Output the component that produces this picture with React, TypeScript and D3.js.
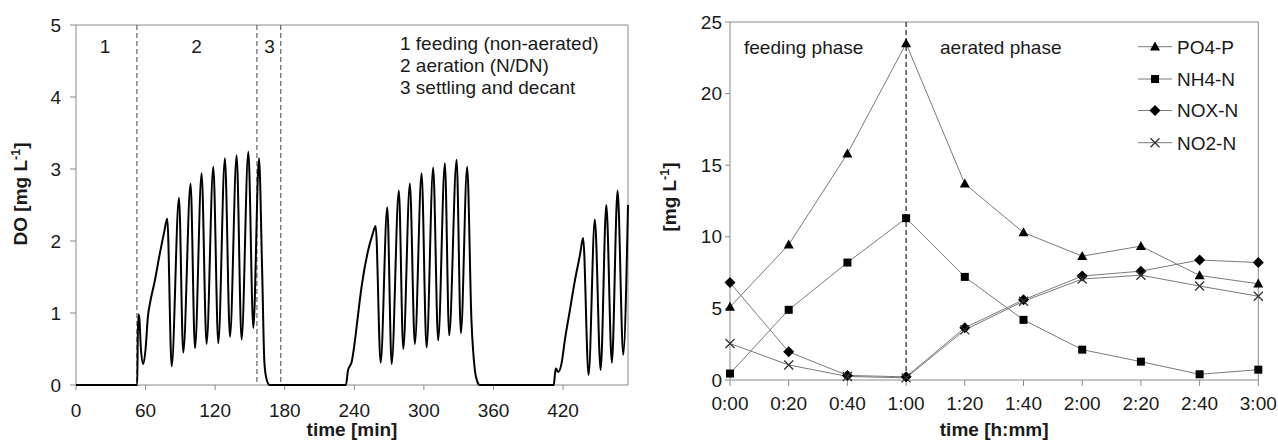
import React from "react";
import * as d3 from "d3";

// ---------- Left chart: DO time series (time in min, DO in mg/L) ----------
const doCycle1: [number, number][] = [
  [0, 0], [52.8, 0], [53.3, 0.7], [53.9, 0.98], [54.6, 0.93], [56, 0.5], [58, 0.29], [60, 0.5],
  [62, 0.95], [64, 1.15], [68, 1.45], [72, 1.8], [76, 2.12], [78.7, 2.31], [82.5, 0.26],
  [88.8, 2.6], [92.5, 0.45], [98.8, 2.8], [102.6, 0.51], [108.3, 2.94], [112.6, 0.57],
  [118.4, 3.03], [122.7, 0.58], [128.4, 3.15], [132.8, 0.67], [138.5, 3.19], [142.8, 0.63],
  [148.6, 3.24], [152.9, 0.79], [157.8, 3.15], [160.5, 1.6], [162.5, 0.3], [164.5, 0.07], [167, 0],
];
const doCycle2: [number, number][] = [
  [167, 0], [232.8, 0], [234.5, 0.2], [236, 0.26], [237.7, 0.32], [240, 0.55], [242, 0.81],
  [246.3, 1.37], [252, 1.875], [255.5, 2.08], [258.4, 2.21], [262.7, 0.31], [268.4, 2.47],
  [272.2, 0.29], [278.4, 2.7], [282.2, 0.5], [287.9, 2.8], [292.2, 0.57], [298, 2.94],
  [302.3, 0.52], [308, 3.02], [312.3, 0.62], [318.1, 3.08], [321.8, 0.69], [328.2, 3.13],
  [331.9, 0.72], [337.3, 3.03], [341, 0.9], [344, 0.2], [346, 0.05], [348, 0],
];
const doCycle3: [number, number][] = [
  [348, 0], [412, 0], [413, 0.15], [413.8, 0.23], [415.8, 0.18], [418.7, 0.3], [421.6, 0.63],
  [425.9, 1.04], [430.2, 1.45], [434.5, 1.8], [437.3, 2.04], [442, 0.14], [447.4, 2.3],
  [452.4, 0.21], [457.3, 2.5], [462.1, 0.31], [467, 2.7], [471.9, 0.42], [476, 2.5],
];
const doXTicks = [0, 60, 120, 180, 240, 300, 360, 420];
const doYTicks = [0, 1, 2, 3, 4, 5];
const phaseBounds = [52.5, 156, 176.5];
const phaseLabels = [
  { label: "1", t: 25 },
  { label: "2", t: 104 },
  { label: "3", t: 167 },
];
const phaseNotes = ["1 feeding (non-aerated)", "2 aeration (N/DN)", "3 settling and decant"];

// ---------- Right chart: nutrients ----------
const timeMin = [0, 20, 40, 60, 80, 100, 120, 140, 160, 180];
const timeLabels = ["0:00", "0:20", "0:40", "1:00", "1:20", "1:40", "2:00", "2:20", "2:40", "3:00"];
const po4P = [5.1, 9.45, 15.8, 23.5, 13.7, 10.3, 8.65, 9.35, 7.3, 6.72];
const nh4N = [0.45, 4.9, 8.2, 11.3, 7.2, 4.2, 2.12, 1.28, 0.4, 0.72];
const noxN = [6.8, 1.97, 0.32, 0.22, 3.65, 5.6, 7.26, 7.6, 8.38, 8.2];
const no2N = [2.55, 1.05, 0.25, 0.15, 3.5, 5.5, 7.05, 7.32, 6.56, 5.85];
const nutYTicks = [0, 5, 10, 15, 20, 25];
const seriesNames = ["PO4-P", "NH4-N", "NOX-N", "NO2-N"];

const FONT = "Arial, 'Liberation Sans', Helvetica, sans-serif";
const AXIS = "#8a8a8a";
const TXT = "#1a1a1a";
const FS = 19;

function Marker({ kind, x, y }: { kind: number; x: number; y: number }) {
  if (kind === 0)
    return <path d={`M${x},${y - 5.2}L${x + 5},${y + 3.8}L${x - 5},${y + 3.8}Z`} fill="#000" />;
  if (kind === 1) return <rect x={x - 4} y={y - 4} width={8} height={8} fill="#000" />;
  if (kind === 2)
    return <path d={`M${x},${y - 5.5}L${x + 5.5},${y}L${x},${y + 5.5}L${x - 5.5},${y}Z`} fill="#000" />;
  return (
    <path
      d={`M${x - 4.5},${y - 4.5}L${x + 4.5},${y + 4.5}M${x + 4.5},${y - 4.5}L${x - 4.5},${y + 4.5}`}
      stroke="#333"
      strokeWidth={1.3}
      fill="none"
    />
  );
}

export default function App() {
  // left scales
  const xL = d3.scaleLinear().domain([0, 476]).range([76, 628]);
  const yL = d3.scaleLinear().domain([0, 5]).range([385, 25]);
  const doLine = d3
    .line<[number, number]>()
    .x((d) => xL(d[0]))
    .y((d) => yL(d[1]))
    .curve(d3.curveMonotoneX);
  const allDO = [...doCycle1, ...doCycle2.slice(1), ...doCycle3.slice(1)];

  // right scales
  const xR = d3.scaleLinear().domain([0, 180]).range([730, 1258.3]);
  const yR = d3.scaleLinear().domain([0, 25]).range([380, 22]);
  const nutLine = d3
    .line<number>()
    .x((_, i) => xR(timeMin[i]))
    .y((d) => yR(d));
  const series = [po4P, nh4N, noxN, no2N];
  const legendY = [46.7, 79, 110.5, 142.7];

  const [l0, l1] = xL.range();
  const [b0, t0] = yL.range();
  const [r0, r1] = xR.range();
  const [b1, t1] = yR.range();

  return (
    <svg
      width={1278}
      height={441}
      style={{ position: "absolute", left: 0, top: 0, background: "#fff" }}
      fontFamily={FONT}
    >
      <rect x={0} y={0} width={1278} height={441} fill="#fff" />

      {/* ===== LEFT CHART ===== */}
      <g>
        <line x1={l0} x2={l1} y1={t0} y2={t0} stroke={AXIS} strokeWidth={1} />
        <line x1={l1} x2={l1} y1={t0} y2={b0} stroke={AXIS} strokeWidth={1} />
        <line x1={l0} x2={l0} y1={t0} y2={b0} stroke={AXIS} strokeWidth={1} />
        <line x1={l0} x2={l1} y1={b0} y2={b0} stroke={AXIS} strokeWidth={1} />
        {doYTicks.map((v) => (
          <g key={v}>
            <line x1={l0 - 6} x2={l0} y1={yL(v)} y2={yL(v)} stroke={AXIS} />
            <text x={61} y={yL(v)} dy="0.35em" textAnchor="end" fontSize={FS} fill={TXT}>
              {v}
            </text>
          </g>
        ))}
        {doXTicks.map((v) => (
          <g key={v}>
            <line x1={xL(v)} x2={xL(v)} y1={b0} y2={b0 + 5} stroke={AXIS} />
            <text x={xL(v)} y={417} textAnchor="middle" fontSize={FS} fill={TXT}>
              {v}
            </text>
          </g>
        ))}
        {phaseBounds.map((t) => (
          <line
            key={t}
            x1={xL(t)}
            x2={xL(t)}
            y1={t0}
            y2={b0}
            stroke="#707070"
            strokeWidth={1.3}
            strokeDasharray="5,3"
          />
        ))}
        {phaseLabels.map((p) => (
          <text key={p.label} x={xL(p.t)} y={53} textAnchor="middle" fontSize={FS} fill={TXT}>
            {p.label}
          </text>
        ))}
        {phaseNotes.map((n, i) => (
          <text key={n} x={400} y={50 + i * 21.8} fontSize={FS} fill={TXT}>
            {n}
          </text>
        ))}
        <path d={doLine(allDO) || ""} fill="none" stroke="#000" strokeWidth={2} strokeLinejoin="round" />
        <text x={(l0 + l1) / 2} y={436} textAnchor="middle" fontSize={FS} fontWeight="bold" fill={TXT}>
          time [min]
        </text>
        <text
          transform={`translate(27,${194}) rotate(-90)`}
          textAnchor="middle"
          fontSize={FS}
          fontWeight="bold"
          fill={TXT}
        >
          DO [mg L
          <tspan fontSize={12.5} dy={-7}>
            -1
          </tspan>
          <tspan dy={7}>]</tspan>
        </text>
      </g>

      {/* ===== RIGHT CHART ===== */}
      <g>
        <line x1={r0} x2={r1} y1={t1} y2={t1} stroke={AXIS} />
        <line x1={r1} x2={r1} y1={t1} y2={b1} stroke={AXIS} />
        <line x1={r0} x2={r0} y1={t1} y2={b1} stroke={AXIS} />
        <line x1={r0} x2={r1} y1={b1} y2={b1} stroke={AXIS} />
        {nutYTicks.map((v) => (
          <g key={v}>
            <line x1={r0 - 5} x2={r0} y1={yR(v)} y2={yR(v)} stroke={AXIS} />
            <text x={722} y={yR(v)} dy="0.35em" textAnchor="end" fontSize={FS} fill={TXT}>
              {v}
            </text>
          </g>
        ))}
        {timeMin.map((v, i) => (
          <g key={v}>
            <line x1={xR(v)} x2={xR(v)} y1={b1} y2={b1 + 6} stroke={AXIS} />
            <text x={xR(v)} y={410} textAnchor="middle" fontSize={FS} fill={TXT}>
              {timeLabels[i]}
            </text>
          </g>
        ))}
        <line
          x1={xR(60)}
          x2={xR(60)}
          y1={t1}
          y2={b1}
          stroke="#222"
          strokeWidth={1.2}
          strokeDasharray="5,3"
        />
        <text x={744} y={54} fontSize={FS} fill={TXT}>
          feeding phase
        </text>
        <text x={940} y={54} fontSize={FS} fill={TXT}>
          aerated phase
        </text>
        {series.map((s, k) => (
          <path key={k} d={nutLine(s) || ""} fill="none" stroke="#7a7a7a" strokeWidth={1} />
        ))}
        {series.map((s, k) =>
          s.map((v, i) => <Marker key={`${k}-${i}`} kind={k} x={xR(timeMin[i])} y={yR(v)} />)
        )}
        {seriesNames.map((n, k) => (
          <g key={n}>
            <line x1={1138} x2={1172} y1={legendY[k]} y2={legendY[k]} stroke="#7a7a7a" />
            <Marker kind={k} x={1155} y={legendY[k]} />
            <text x={1177} y={legendY[k]} dy="0.36em" fontSize={FS} fill={TXT}>
              {n}
            </text>
          </g>
        ))}
        <text x={(r0 + r1) / 2} y={436} textAnchor="middle" fontSize={FS} fontWeight="bold" fill={TXT}>
          time [h:mm]
        </text>
        <text
          transform={`translate(676,${197}) rotate(-90)`}
          textAnchor="middle"
          fontSize={FS}
          fontWeight="bold"
          fill={TXT}
        >
          [mg L
          <tspan fontSize={12.5} dy={-7}>
            -1
          </tspan>
          <tspan dy={7}>]</tspan>
        </text>
      </g>
    </svg>
  );
}
